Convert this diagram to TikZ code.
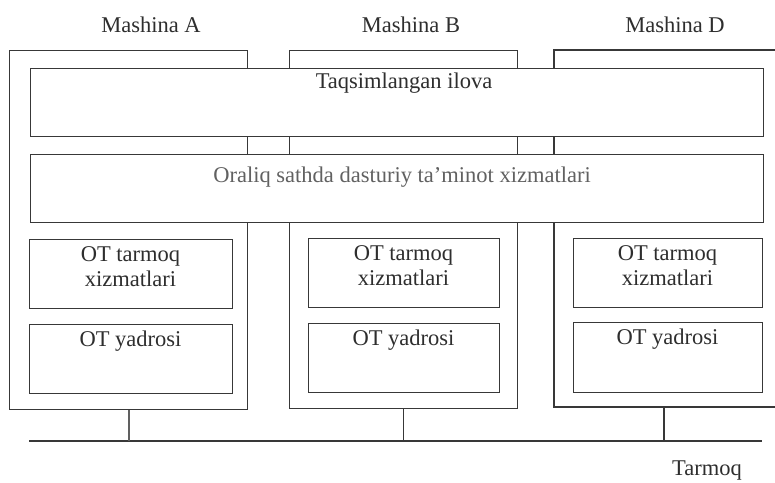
\documentclass[tikz,border=0pt]{standalone}
\usepackage{fontspec}
\setmainfont{Liberation Serif}
\definecolor{ln}{gray}{0.22}
\definecolor{tx}{gray}{0.18}
\definecolor{txlight}{gray}{0.38}
\begin{document}
\begin{tikzpicture}[x=1pt,y=-1pt,
  pane/.style={draw=ln, line width=1.3pt, fill=white, anchor=north west, inner sep=0pt},
  frame/.style={draw=ln, line width=1.3pt, anchor=north west, inner sep=0pt},
  lbl/.style={font=\fontsize{22.5}{25}\selectfont, text=tx, inner sep=0pt, align=center, anchor=base},
  wire/.style={draw=ln, line width=1.3pt}]
\useasboundingbox (0,0) rectangle (775,482);

% machine frames (drawn first, the shared layers cover them)
\node[frame, minimum width=238pt, minimum height=359pt] (fa) at (9,50) {};
\node[frame, minimum width=228pt, minimum height=358pt] (fb) at (289,50) {};
\coordinate (fdtr) at (780,50);
\coordinate (fdtl) at (554,50);
\coordinate (fdbl) at (554,407);
\coordinate (fdbr) at (780,407);
\coordinate (fd) at (664,407);
\draw[wire] (fdtr) -- (fdtl) -- (fdbl) -- (fdbr);

% machine titles
\node[lbl] (ma) at (151,32) {Mashina A};
\node[lbl] (mb) at (411,32) {Mashina B};
\node[lbl] (md) at (675,32) {Mashina D};

% shared layers
\node[pane, minimum width=733pt, minimum height=68pt] (app) at (30,68) {};
\node[lbl] (appt) at (404,88) {Taqsimlangan ilova};
\node[pane, minimum width=733pt, minimum height=68pt] (mid) at (30,154) {};
\node[lbl, text=txlight] (midt) at (402,182) {Oraliq sathda dasturiy ta’minot xizmatlari};

% per-machine layers (two-line labels sit on the baseline of their last line)
\node[pane, minimum width=203pt, minimum height=69pt] (na) at (29,239) {};
\node[lbl] (nat) at (130.5,286) {OT tarmoq\\xizmatlari};
\node[pane, minimum width=203pt, minimum height=69pt] (ka) at (29,324) {};
\node[lbl] (kat) at (130.5,346) {OT yadrosi};

\node[pane, minimum width=191pt, minimum height=69pt] (nb) at (308,238) {};
\node[lbl] (nbt) at (403.5,285) {OT tarmoq\\xizmatlari};
\node[pane, minimum width=191pt, minimum height=69pt] (kb) at (308,323) {};
\node[lbl] (kbt) at (403.5,345) {OT yadrosi};

\node[pane, minimum width=189pt, minimum height=69pt] (nd) at (573,238) {};
\node[lbl] (ndt) at (667.5,285) {OT tarmoq\\xizmatlari};
\node[pane, minimum width=189pt, minimum height=70pt] (kd) at (573,322) {};
\node[lbl] (kdt) at (667.5,344) {OT yadrosi};

% network bus and taps
\coordinate (netL) at (29,441);
\coordinate (netR) at (762,441);
\draw[wire] (netL) -- (netR);
\draw[wire, line width=2.2pt, draw=gray!75!black] (fa.south) -- (fa.south |- netL);
\draw[wire] (fb.south) -- (fb.south |- netL);
\draw[wire] (fd) -- (fd |- netL);
\node[lbl] (net) at (707,475) {Tarmoq};
\end{tikzpicture}
\end{document}
